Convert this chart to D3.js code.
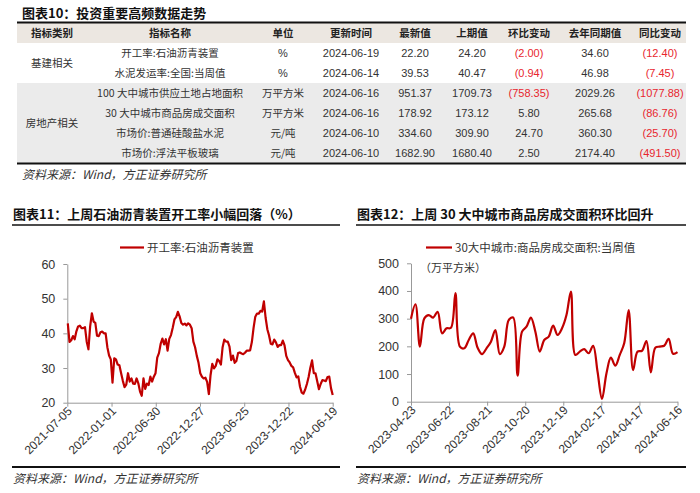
<!DOCTYPE html>
<html><head><meta charset="utf-8">
<script src="https://cdn.jsdelivr.net/npm/d3@7"></script>
<style>
body{margin:0;background:#fff;}
svg{display:block;}
.cn{font-family:"Noto Sans CJK SC","Noto Sans",sans-serif;}
.num{font-family:"Liberation Sans",Arial,sans-serif;}
</style></head>
<body><svg id="c" width="700" height="493"></svg>
<script>
// ---------- DATA ----------
const tableTitle = "图表10：投资重要高频数据走势";
const tableHeaders = ["指标类别","指标名称","单位","更新时间","最新值","上期值","环比变动","去年同期值","同比变动"];
const groupNames = ["基建相关","房地产相关"];
const groupSizes = [2,4];
const indicatorNames = ["开工率:石油沥青装置","水泥发运率:全国:当周值","100 大中城市供应土地占地面积","30 大中城市商品房成交面积","市场价:普通硅酸盐水泥","市场价:浮法平板玻璃"];
const units = ["%","%","万平方米","万平方米","元/吨","元/吨"];
const updateDates = ["2024-06-19","2024-06-14","2024-06-16","2024-06-16","2024-06-10","2024-06-10"];
const latestValues = [22.20,39.53,951.37,178.92,334.60,1682.90];
const previousValues = [24.20,40.47,1709.73,173.12,309.90,1680.40];
const momChanges = [-2.00,-0.94,-758.35,5.80,24.70,2.50];
const yearAgoValues = [34.60,46.98,2029.26,265.68,360.30,2174.40];
const yoyChanges = [-12.40,-7.45,-1077.88,-86.76,-25.70,-491.50];
const sourceText = "资料来源：Wind，方正证券研究所";

const chart1Title = "图表11：上周石油沥青装置开工率小幅回落（%）";
const chart1Legend = "开工率:石油沥青装置";
const chart1End = "2024-06-19";
const chart1Values = [42.9,37.5,38,39.2,38.3,40.6,42,42.2,41.5,41.5,41.8,37.6,35.4,42,45.8,43.4,43,39.3,39.2,40.3,
40.5,40,40,36,33.6,32.5,25.8,32.8,32.5,31,30.8,28.5,26.3,24.5,25.2,28.5,26.1,27,25.5,25.4,
27,25.6,23.2,22,27,24,25.5,25.1,27.5,26.1,27.5,28.5,33,34.3,37,38.5,36.8,38.3,35,38.4,
39.5,41.6,44,44.7,46.2,44.9,43,42.5,42.8,42.3,42.9,42.5,41.5,37.6,36,33.5,31.5,28.5,27.5,27,
27.2,26,22.5,28,31.2,29.9,30.6,32.5,32,31,36,38.2,37.6,37.6,36.2,32.3,33.6,31.5,32,34.3,
34.5,34.2,34,34.4,35,35,35.1,37.5,41.6,44.8,45.7,45.7,46.5,46.3,49.2,44.5,41.2,39.4,37,36.8,
38.2,37.4,36.1,36.6,36.6,37.9,36.5,33.5,32.3,31.6,30.6,30.2,28.6,27.3,27.6,24.6,22.9,22.6,23.8,25.4,
27.4,30.1,32.2,28.5,28.5,26.2,23.9,25.4,26.5,26.4,26.2,27.4,27.5,24.2,22.2];
const chart1XTicks = ["2021-07-05","2022-01-01","2022-06-30","2022-12-27","2023-06-25","2023-12-22","2024-06-19"];
const chart1YTicks = [20,30,40,50,60];

const chart2Title = "图表12：上周 30 大中城市商品房成交面积环比回升";
const chart2Legend = "30大中城市:商品房成交面积:当周值";
const chart2Unit = "（万平方米）";
const chart2End = "2024-06-16";
const chart2Values = [300,352,199,301,313,304,325,247,265,267,392,199,193,223,247,195,172,193,217,259,
172,199,295,304,94,253,271,304,253,181,223,235,275,241,265,313,398,169,181,190,
175,202,108,10,102,159,130,169,211,331,114,181,184,219,106,195,199,202,227,173.12,178.92];
const chart2XTicks = ["2023-04-23","2023-06-22","2023-08-21","2023-10-20","2023-12-19","2024-02-17","2024-04-17","2024-06-16"];
const chart2YTicks = [0,100,200,300,400,500];

// ---------- DRAW ----------
const svg = d3.select("#c");
const parse = d3.timeParse("%Y-%m-%d");
const fmt = d3.timeFormat("%Y-%m-%d");
const RED = "#c00000";
const NUMRED = "#e8262e";

// Table
svg.append("text").attr("class","cn").attr("x",22).attr("y",18).attr("font-size",13).attr("font-weight",700)
  .attr("fill","#111").text(tableTitle);
const tL = 17, tR = 686, headTop = 23, headH = 20, rowH = 20;
const colX = [52,170,283,351,415,472,529,595,660];
svg.append("rect").attr("x",tL).attr("y",headTop).attr("width",tR-tL).attr("height",headH).attr("fill","#ece7e1");
svg.append("rect").attr("x",tL).attr("y",headTop+headH+rowH*groupSizes[0]).attr("width",tR-tL)
  .attr("height",rowH*groupSizes[1]).attr("fill","#ebebeb");
svg.append("line").attr("x1",tL).attr("x2",tR).attr("y1",headTop-0.5).attr("y2",headTop-0.5).attr("stroke","#111").attr("stroke-width",2);
const tBottom = headTop+headH+rowH*indicatorNames.length;
svg.append("line").attr("x1",tL).attr("x2",tR).attr("y1",tBottom+0.5).attr("y2",tBottom+0.5).attr("stroke","#111").attr("stroke-width",2);

svg.selectAll(".th").data(tableHeaders).enter().append("text").attr("class","cn")
  .attr("x",(d,i)=>colX[i]).attr("y",headTop+headH/2+4).attr("text-anchor","middle")
  .attr("font-size",10.5).attr("font-weight",700).attr("fill","#222").text(d=>d);

let start = 0;
groupNames.forEach((g,gi)=>{
  const yc = headTop+headH+rowH*(start+groupSizes[gi]/2);
  svg.append("text").attr("class","cn").attr("x",colX[0]).attr("y",yc+4).attr("text-anchor","middle")
    .attr("font-size",10.5).attr("fill","#333").text(g);
  start += groupSizes[gi];
});
const f2 = d3.format(".2f");
const fmtChange = v => v<0 ? "("+f2(-v)+")" : f2(v);
indicatorNames.forEach((n,i)=>{
  const yc = headTop+headH+rowH*(i+0.5)+4;
  const cells = [
    {t:n,c:"cn",col:1},{t:units[i],c:(units[i]==="%"?"num":"cn"),col:2},{t:updateDates[i],c:"num",col:3},
    {t:f2(latestValues[i]),c:"num",col:4},{t:f2(previousValues[i]),c:"num",col:5},
    {t:fmtChange(momChanges[i]),c:"num",col:6,red:momChanges[i]<0},
    {t:f2(yearAgoValues[i]),c:"num",col:7},
    {t:fmtChange(yoyChanges[i]),c:"num",col:8,red:yoyChanges[i]<0}];
  cells.forEach(cell=>{
    svg.append("text").attr("class",cell.c).attr("x",colX[cell.col]).attr("y",yc).attr("text-anchor","middle")
      .attr("font-size",cell.c==="num"?11:10.5).attr("fill",cell.red?NUMRED:"#333").text(cell.t);
  });
});
svg.append("text").attr("class","cn").attr("x",22).attr("y",179).attr("font-size",12).attr("font-style","italic")
  .attr("fill","#333").text(sourceText);

// Chart builder
function drawChart(o){
  const g = svg.append("g");
  g.append("text").attr("class","cn").attr("x",o.left).attr("y",219).attr("font-size",13).attr("font-weight",700)
    .attr("fill","#111").text(o.title);
  g.append("line").attr("x1",o.left-1).attr("x2",o.right).attr("y1",225).attr("y2",225).attr("stroke","#111").attr("stroke-width",1.5);
  g.append("line").attr("x1",o.left-1).attr("x2",o.right).attr("y1",467).attr("y2",467).attr("stroke","#111").attr("stroke-width",2);
  g.append("text").attr("class","cn").attr("x",o.left).attr("y",483).attr("font-size",12).attr("font-style","italic")
    .attr("fill","#333").text(sourceText);
  // legend
  g.append("line").attr("x1",o.legX).attr("x2",o.legX+o.legW).attr("y1",247.5).attr("y2",247.5).attr("stroke",RED).attr("stroke-width",2.2);
  g.append("text").attr("class","cn").attr("x",o.legX+o.legW+3).attr("y",251.5).attr("font-size",11.5).attr("fill","#333").text(o.legend);

  const endD = parse(o.end);
  const data = o.values.map((v,i)=>({d:d3.timeDay.offset(endD,-7*(o.values.length-1-i)),v}));
  const x = d3.scaleTime().domain([parse(o.xTicks[0]),parse(o.xTicks[o.xTicks.length-1])]).range([o.x0,o.x1]);
  const y = d3.scaleLinear().domain([o.yTicks[0],o.yTicks[o.yTicks.length-1]]).range([o.yBottom,o.yTop]);

  const ya = g.append("g").attr("transform",`translate(${o.x0},0)`)
    .call(d3.axisLeft(y).tickValues(o.yTicks).tickSize(4).tickPadding(8).tickSizeOuter(0));
  ya.select(".domain").attr("stroke","#999");
  ya.selectAll(".tick line").attr("stroke","#999");
  ya.selectAll(".tick text").attr("class","num").attr("font-size",12.5).attr("fill","#333");

  const xa = g.append("g").attr("transform",`translate(0,${o.yBottom})`)
    .call(d3.axisBottom(x).tickValues(o.xTicks.map(parse)).tickFormat(fmt).tickSize(4).tickSizeOuter(0));
  xa.select(".domain").attr("stroke","#999");
  xa.selectAll(".tick line").attr("stroke","#999");
  xa.selectAll(".tick text").attr("class","num").attr("font-size",12).attr("fill","#333")
    .attr("text-anchor","end").attr("dy",null).attr("y",null)
    .attr("transform","translate(5,9) rotate(-45)");

  const line = d3.line().x(d=>x(d.d)).y(d=>y(d.v)).curve(o.curve);
  g.append("path").datum(data).attr("d",line).attr("fill","none").attr("stroke",RED).attr("stroke-width",2.2)
    .attr("stroke-linejoin","round");
  if(o.unit){
    g.append("text").attr("class","cn").attr("x",o.unitX).attr("y",272).attr("font-size",11).attr("fill","#333").text(o.unit);
  }
}

drawChart({title:chart1Title,left:13,right:340,legend:chart1Legend,legX:120,legW:24,
  values:chart1Values,end:chart1End,xTicks:chart1XTicks,yTicks:chart1YTicks,
  x0:67.3,x1:332.7,yBottom:402.7,yTop:264,curve:d3.curveLinear});
drawChart({title:chart2Title,left:357,right:686,legend:chart2Legend,legX:426,legW:26,
  values:chart2Values,end:chart2End,xTicks:chart2XTicks,yTicks:chart2YTicks,
  x0:411,x1:677.5,yBottom:401.7,yTop:263.3,curve:d3.curveCatmullRom.alpha(0.5),
  unit:chart2Unit,unitX:420});
</script></body></html>
